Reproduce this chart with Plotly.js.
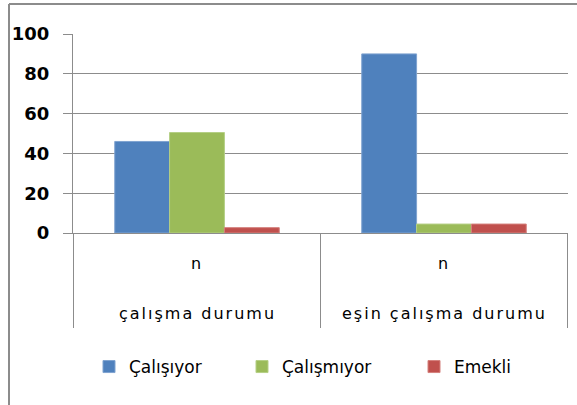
<!DOCTYPE html>
<html>
<head>
<meta charset="utf-8">
<script src="https://cdn.plot.ly/plotly-3.0.1.min.js"></script>
<style>
html,body{margin:0;padding:0;background:#fff;}
#chart{width:577px;height:405px;}
#chart .xtick text, #chart .annotation-text{letter-spacing:2px;}
</style>
</head>
<body>
<div id="chart"></div>
<script>
var outerCategories = ["çalışma durumu", "eşin çalışma durumu"];
var innerCategories = ["n", "n"];
var seriesNames = ["Çalışıyor", "Çalışmıyor", "Emekli"];
var calisiyor = [46, 90];
var calismiyor = [50.5, 4.5];
var emekli = [2.7, 4.5];
var yTicks = [0, 20, 40, 60, 80, 100];

var colors = ["#4F81BD", "#9BBB59", "#C0504D"];
var lineColors = ["#7FA3D0", "#B5CF85", "#D4807D"];
var values = [calisiyor, calismiyor, emekli];
var FONT = "'DejaVu Sans', sans-serif";
var GREY = "#8c8c8c";

// plot area geometry (px) used to convert to paper coordinates
var L = 73, R = 9, T = 34, B = 172, W = 577, H = 405;
var pw = W - L - R, ph = H - T - B;
function px(x) { return (x - L) / pw; }
function py(y) { return (H - B - y) / ph; }

var legendIds = ["legend", "legend2", "legend3"];
var legendLeft = [89, 242, 414];

var traces = seriesNames.map(function (name, i) {
  return {
    type: "bar",
    name: name,
    x: outerCategories,
    y: values[i],
    legend: legendIds[i],
    marker: { color: colors[i], line: { color: lineColors[i], width: 1 } },
    hoverinfo: "skip"
  };
});

var annotations = outerCategories.map(function (c) {
  return {
    xref: "x", yref: "paper", x: c, y: py(313),
    text: c, showarrow: false, xanchor: "center", yanchor: "middle",
    font: { family: FONT, size: 16, color: "#000" }
  };
});

var shapes = [];
for (var k = 0; k <= outerCategories.length; k++) {
  shapes.push({
    type: "line", xref: "x", yref: "paper",
    x0: k - 0.5, x1: k - 0.5, y0: 0, y1: py(328),
    line: { color: GREY, width: 1 }
  });
}
shapes.push({ type: "line", xref: "paper", yref: "paper", x0: px(9), x1: px(9), y0: py(4), y1: py(430), line: { color: GREY, width: 2 } });
shapes.push({ type: "line", xref: "paper", yref: "paper", x0: px(9), x1: px(600), y0: py(4), y1: py(4), line: { color: GREY, width: 2 } });

var layout = {
  width: W,
  height: H,
  margin: { l: L, r: R, t: T, b: B },
  paper_bgcolor: "#fff",
  plot_bgcolor: "#fff",
  barmode: "group",
  bargap: 0.334,
  bargroupgap: 0,
  font: { family: FONT, size: 16, color: "#000" },
  showlegend: true,
  xaxis: {
    type: "category",
    tickvals: outerCategories,
    ticktext: innerCategories,
    showline: true,
    linecolor: GREY,
    linewidth: 1,
    ticks: "",
    ticklabelstandoff: 16,
    tickfont: { family: FONT, size: 16, color: "#000" },
    showgrid: false,
    fixedrange: true
  },
  yaxis: {
    range: [0, 100],
    tickvals: yTicks,
    ticktext: yTicks.map(String),
    showgrid: true,
    gridcolor: GREY,
    gridwidth: 1,
    showline: true,
    linecolor: GREY,
    linewidth: 1,
    ticks: "outside",
    ticklen: 9,
    tickcolor: GREY,
    ticklabelstandoff: 10,
    tickfont: { family: FONT, size: 18, color: "#000", weight: "bold" },
    zeroline: false,
    fixedrange: true
  },
  annotations: annotations,
  shapes: shapes
};

legendIds.forEach(function (id, i) {
  layout[id] = {
    orientation: "h",
    x: px(legendLeft[i]), xanchor: "left",
    y: py(367), yanchor: "middle",
    font: { family: FONT, size: 17, color: "#000" },
    bgcolor: "rgba(0,0,0,0)"
  };
});

Plotly.newPlot("chart", traces, layout, { displayModeBar: false, staticPlot: true });
</script>
</body>
</html>
